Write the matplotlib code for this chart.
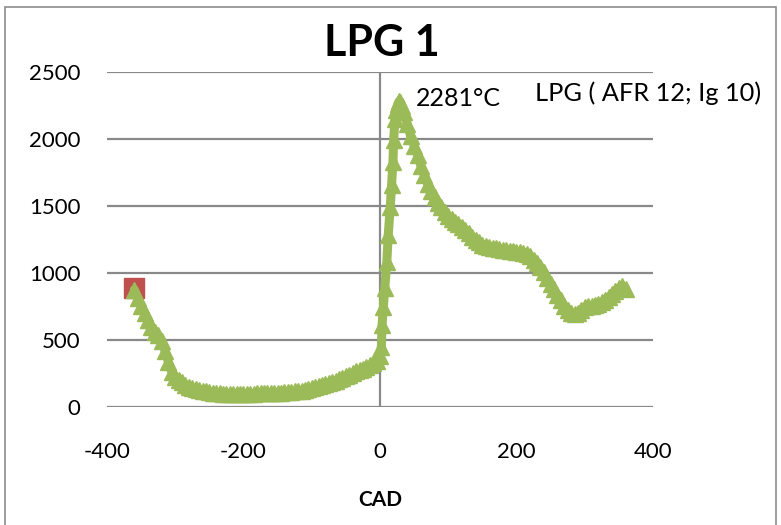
import matplotlib
matplotlib.use("Agg")
import matplotlib.pyplot as plt
from matplotlib.patches import Rectangle

# Crank angle (deg) and in-cylinder temperature (°C)
cad = [-360, -355, -350, -345, -340, -335, -330, -325, -320, -315, -310, -305,
       -300, -295, -290, -285, -280, -275, -270, -265, -260, -255, -250, -245,
       -240, -235, -230, -225, -220, -215, -210, -205, -200, -195, -190, -185,
       -180, -175, -170, -165, -160, -155, -150, -145, -140, -135, -130, -125,
       -120, -115, -110, -105, -100, -95, -90, -85, -80, -75, -70, -65, -60,
       -55, -50, -45, -40, -35, -30, -25, -20, -15, -10, -5, 0,
       2, 3, 5, 7, 10, 12, 15, 17, 19, 20, 22, 24, 26, 28,
       30, 32, 35, 40, 45, 50, 55, 60, 65, 70, 75, 80, 85, 90, 95, 100,
       105, 110, 115, 120, 125, 130, 135, 140, 145, 150, 155, 160, 165, 170,
       175, 180, 185, 190, 195, 200, 205, 210, 215, 220, 225, 230, 235, 240,
       245, 250, 255, 260, 265, 270, 275, 280, 285, 290, 295, 300, 305, 310,
       315, 320, 325, 330, 335, 340, 345, 350, 355, 360]
temp = [875, 815, 752, 698, 648, 600, 562, 535, 490, 420, 335, 262,
        225, 203, 184, 165, 150, 140, 133, 127, 121, 116, 112, 108,
        105, 102, 100, 99, 98, 97, 97, 97, 97, 98, 99, 100,
        101, 102, 103, 104, 105, 106, 107, 108, 110, 112, 114, 116,
        118, 122, 128, 135, 142, 150, 158, 165, 172, 179, 186, 196, 207,
        219, 230, 242, 254, 265, 276, 286, 297, 310, 325, 345, 380,
        450, 610, 750, 890, 1080, 1280, 1490, 1660, 1830, 1990, 2150, 2220, 2260, 2281,
        2275, 2250, 2200, 2110, 2020, 1950, 1880, 1800, 1730, 1665, 1610, 1565, 1525, 1490, 1455, 1425,
        1402, 1382, 1363, 1345, 1320, 1295, 1270, 1250, 1228, 1212, 1203, 1196, 1190, 1185,
        1180, 1175, 1171, 1167, 1163, 1160, 1157, 1152, 1143, 1127, 1100, 1075, 1045, 1005,
        963, 920, 878, 835, 795, 755, 725, 705, 692, 700, 725, 748, 756, 756,
        760, 768, 780, 800, 820, 840, 865, 888, 903, 880]

# Start-of-cycle point
start_cad = [-360]
start_temp = [888]

peak_label = "2281°C"
peak_cad = 28
peak_temp = 2281
series_name = "LPG ( AFR 12; Ig 10)"

x_ticks = [-400, -200, 0, 200, 400]
y_ticks = [0, 500, 1000, 1500, 2000, 2500]

FONT = "Lato"
GREEN = "#9BBB59"
RED = "#C0504D"
GRID = "#898989"

fig = plt.figure(figsize=(7.81, 5.25), dpi=100)
ax = fig.add_axes([107 / 781, 1 - 407 / 525, (653 - 107) / 781, (407 - 72) / 525])

ax.set_xlim(-400, 400)
ax.set_ylim(0, 2500)
ax.set_xticks(x_ticks)
ax.set_yticks(y_ticks)
ax.set_xticklabels([str(v) for v in x_ticks], fontsize=16, family=FONT)
ax.set_yticklabels([str(v) for v in y_ticks], fontsize=16, family=FONT)
ax.tick_params(axis="both", length=0)
ax.tick_params(axis="y", pad=19)
ax.tick_params(axis="x", pad=25)

for s in ax.spines.values():
    s.set_visible(False)

ax.grid(axis="y", color=GRID, linewidth=1.6, zorder=0)
ax.set_axisbelow(True)
ax.axvline(0, color=GRID, linewidth=1.6, zorder=1)

ax.plot(start_cad, start_temp, linestyle="none", marker="s", markersize=14,
        color=RED, zorder=2)
ax.plot(cad, temp, color=GREEN, linewidth=6.5, marker="^", markersize=11,
        markeredgecolor=GREEN, markerfacecolor=GREEN, zorder=3, clip_on=False,
        solid_joinstyle="round", solid_capstyle="round")

ax.text(peak_cad + 24, peak_temp + 20, peak_label, fontsize=18, family=FONT,
        ha="left", va="center")

fig.text(382 / 781, 1 - 43 / 525, "LPG 1", fontsize=31, fontweight="bold",
         family=FONT, ha="center", va="center")
fig.text(380 / 781, 1 - 500 / 525, "CAD", fontsize=15, fontweight="bold",
         family=FONT, ha="center", va="center")
fig.text(535 / 781, 1 - 93 / 525, series_name, fontsize=18.3, family=FONT,
         ha="left", va="center")

# Chart frame
fig.patches.append(Rectangle((5 / 781, -0.05), 771 / 781, 1.05 - 7 / 525,
                             transform=fig.transFigure, fill=False,
                             edgecolor="#8c8c8c", linewidth=1.2))

fig.savefig("out.png", dpi=100)
